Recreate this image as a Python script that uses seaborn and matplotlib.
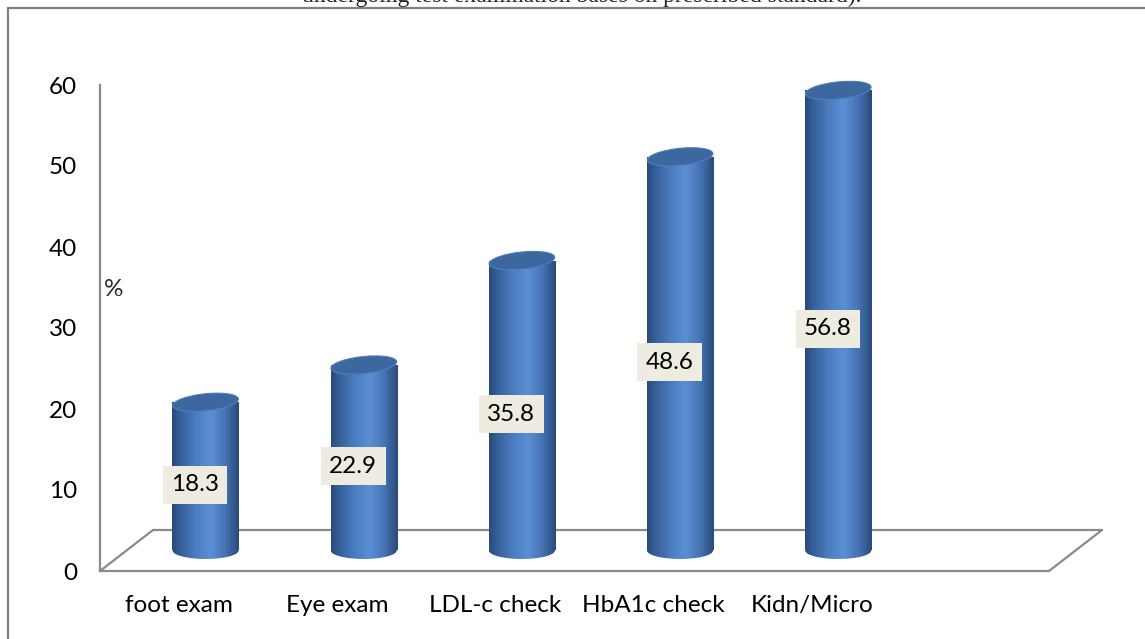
import numpy as np
import pandas as pd
import matplotlib
matplotlib.use('Agg')
import matplotlib.pyplot as plt
import seaborn as sns
from matplotlib.patches import Ellipse
from matplotlib.lines import Line2D
from matplotlib.transforms import ScaledTranslation
from matplotlib.colors import LinearSegmentedColormap

# ------------------------------------------------------------
# data
# ------------------------------------------------------------
categories = ['foot exam', 'Eye exam', 'LDL-c check', 'HbA1c check', 'Kidn/Micro']
values = [18.3, 22.9, 35.8, 48.6, 56.8]
value_labels = ['18.3', '22.9', '35.8', '48.6', '56.8']
y_ticks = [0, 10, 20, 30, 40, 50, 60]
n_slots = 6          # excel leaves one empty slot at the right
title_text = 'undergoing test examination bases on prescribed standard).'

df = pd.DataFrame({'test': categories, 'pct': values})

sns.set_style('white')
plt.rcParams['font.family'] = ['Lato', 'DejaVu Sans']

GRAY = '#8a8a8a'
FS = 17.5
DPI = 100
fig = plt.figure(figsize=(11.45, 6.39), dpi=DPI)
ax = fig.add_axes([100 / 1145, 68 / 639, 949 / 1145, 486 / 639])

bar_w = 0.42
sns.barplot(data=df, x='test', y='pct', width=bar_w, color='#4F81BD',
            ax=ax, zorder=3)

# pseudo-3d depth (in pixels): back wall offset, bars sit at half depth
depth_x, depth_y = 53, 41
mid = ScaledTranslation(depth_x / 2 / DPI, depth_y / 2 / DPI, fig.dpi_scale_trans)
back = ScaledTranslation(depth_x / DPI, depth_y / DPI, fig.dpi_scale_trans)

cyl = LinearSegmentedColormap.from_list('cyl', [
    (0.0, '#294a78'), (0.12, '#365f98'), (0.35, '#4a7cbf'),
    (0.58, '#5b8fd5'), (0.8, '#4573b3'), (1.0, '#2a4a79')])
grad = np.linspace(0, 1, 256).reshape(1, -1)

ell_w, ell_h, ell_ang = 66, 17, 6

for i, p in enumerate(ax.patches[:len(values)]):
    p.set_transform(ax.transData + mid)
    p.set_facecolor('none')
    p.set_edgecolor('none')
    x0 = p.get_x()
    v = p.get_height()
    # body gradient
    im = ax.imshow(grad, cmap=cyl, aspect='auto', extent=[x0, x0 + bar_w, 0, v],
                   transform=ax.transData + mid, zorder=3, interpolation='bilinear')
    im.set_clip_path(p)
    # bottom cap
    cx = x0 + bar_w / 2
    at_bottom = ScaledTranslation(cx, 0, ax.transData) + mid
    bot = Ellipse((0, 0), ell_w, ell_h, angle=0, transform=at_bottom,
                  facecolor='none', edgecolor='none')
    ax.add_patch(bot)
    im2 = ax.imshow(grad, cmap=cyl, aspect='auto',
                    extent=[x0, x0 + bar_w, -2, 1],
                    transform=ax.transData + mid, zorder=3, interpolation='bilinear')
    im2.set_clip_path(bot)
    # top cap
    at_top = ScaledTranslation(cx, v, ax.transData) + mid
    top = Ellipse((0, 0), ell_w, ell_h, angle=ell_ang, transform=at_top,
                  facecolor='#3c679f', edgecolor='#4d7ebd', lw=0.8,
                  zorder=4, clip_on=False)
    ax.add_patch(top)
    # value label
    lab_off = ScaledTranslation(16 / DPI, 12 / DPI, fig.dpi_scale_trans)
    ax.text(i, v / 2, value_labels[i], transform=ax.transData + lab_off,
            ha='center', va='center', fontsize=FS, color='black', zorder=6,
            bbox=dict(boxstyle='square,pad=0.34', fc='#EEECE1', ec='none'))

# floor of the 3d box
lo, hi = -0.5, n_slots - 0.5
ax.plot([lo, hi], [0, 0], color=GRAY, lw=1.6, transform=ax.transData + back,
        clip_on=False, zorder=1)
for xe in (lo, hi):
    ax.add_line(Line2D([0, depth_x], [0, depth_y], color=GRAY, lw=1.6,
                       transform=ScaledTranslation(xe, 0, ax.transData),
                       clip_on=False, zorder=1))

ax.set_xlim(lo, hi)
ax.set_ylim(0, 60)

for s in ['top', 'right']:
    ax.spines[s].set_visible(False)
for s in ['left', 'bottom']:
    ax.spines[s].set_color(GRAY)
    ax.spines[s].set_linewidth(1.6)

ax.set_yticks(y_ticks)
ax.set_yticklabels([str(t) for t in y_ticks])
ax.tick_params(axis='y', direction='out', length=5.5, width=1.4, color=GRAY,
               labelsize=FS, labelcolor='black', pad=11)

ax.set_xticks(np.arange(lo, hi + 0.01, 1))
ax.set_xticklabels([])
ax.set_xticks(range(n_slots), minor=True)
ax.set_xticklabels(categories + [''], minor=True)
ax.tick_params(axis='x', which='major', direction='out', length=6, width=1.4,
               color=GRAY)
ax.tick_params(axis='x', which='minor', length=0, labelsize=FS, pad=17,
               labelcolor='black')
ax.set_xlabel('')
ax.set_ylabel('')

ax.text(0.004, 34.7, '%', transform=ax.get_yaxis_transform(), ha='left',
        va='center', fontsize=FS)

# outer frame (left and top edges) and clipped caption
fig.add_artist(Line2D([8 / 1145, 8 / 1145], [0, 1 - 8 / 639], color='#808080', lw=1.6))
fig.add_artist(Line2D([8 / 1145, 1], [1 - 8 / 639, 1 - 8 / 639], color='#808080', lw=1.6))
fig.text(582 / 1145, 1 - 2 / 639, title_text, ha='center', va='baseline',
         fontsize=17, family=['Liberation Serif', 'DejaVu Serif'])

fig.savefig('out.png', dpi=DPI)
